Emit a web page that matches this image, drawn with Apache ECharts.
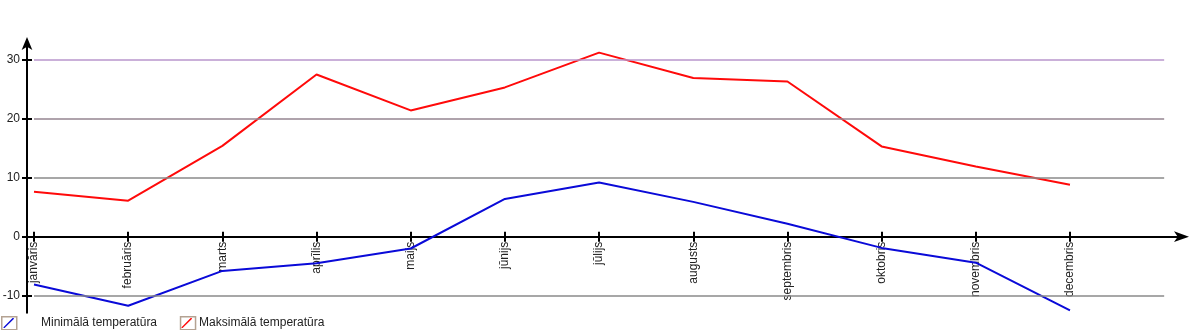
<!DOCTYPE html>
<html><head><meta charset="utf-8">
<script src="https://cdn.jsdelivr.net/npm/echarts@6/dist/echarts.min.js"></script>
<style>html,body{margin:0;padding:0;background:#fff}#c{width:1200px;height:330px}</style>
</head><body><div id="c"></div>
<script>
const months = ['janvāris','februāris','marts','aprīlis','maijs','jūnijs','jūlijs','augusts','septembris','oktobris','novembris','decembris'];
const minTemp = [-8.1, -11.7, -5.8, -4.5, -2.0, 6.4, 9.2, 5.9, 2.2, -1.9, -4.4, -12.5];
const maxTemp = [7.6, 6.1, 15.4, 27.5, 21.4, 25.3, 31.2, 26.9, 26.3, 15.3, 11.9, 8.8];
const yTicks = [-10, 0, 10, 20, 30];
const gridValues = [30, 20, 10, -10];
const seriesNames = ['Minimālā temperatūra', 'Maksimālā temperatūra'];

const gridColors = {30: '#b896cc', 20: '#948490', 10: '#8a8a8a', '-10': '#8a8a8a'};
const font = "'Liberation Sans', Arial, sans-serif";
const monthIdx = months.map((m, i) => i);
const X_MIN = -0.0743, X_MAX = 12.2, Y_MIN = -12.9, Y_MAX = 33.0;
const GRID_TOP = 42, GRID_BOTTOM = 17.2, H = 330;
const gridH = H - GRID_TOP - GRID_BOTTOM;
const zeroOffset = -gridH * (0 - Y_MIN) / (Y_MAX - Y_MIN);

const chart = echarts.init(document.getElementById('c'), null, {renderer: 'canvas'});
const legendFmt = n => n === seriesNames[0] ? '{g|}{t|' + n + '}' : '{t|' + n + '}';
const diag = 'path://M0,0L0.01,0L0,0.01Z M15,13L14.99,13L15,12.99Z M2.5,11.2L11.6,2.0L12.8,2.0L12.8,3.0L3.6,12.0L2.5,12.0Z';
const legendBase = {
  left: 1, top: 316, padding: 0, itemWidth: 15, itemHeight: 13, itemGap: 22, selectedMode: false,
  formatter: legendFmt
};
chart.setOption({
  animation: false,
  grid: {left: 27, right: 17, top: GRID_TOP, bottom: GRID_BOTTOM, containLabel: false, outerBoundsMode: 'none'},
  legend: [
    Object.assign({}, legendBase, {
      data: seriesNames.map(n => ({name: n, icon: 'rect'})),
      itemStyle: {color: '#fff', borderColor: '#b4a292', borderWidth: 1.5},
      textStyle: {color: 'rgba(0,0,0,0)', fontFamily: font, fontSize: 12,
        rich: {g: {width: 20}, t: {color: 'rgba(0,0,0,0)', fontFamily: font, fontSize: 12}}},
      z: 2
    }),
    Object.assign({}, legendBase, {
      data: seriesNames.map(n => ({name: n, icon: diag})),
      itemStyle: {borderWidth: 0},
      textStyle: {color: '#222', fontFamily: font, fontSize: 12,
        rich: {g: {width: 20}, t: {color: '#222', fontFamily: font, fontSize: 12}}},
      z: 3
    })
  ],
  xAxis: [{
    type: 'value', min: X_MIN, max: X_MAX, position: 'bottom', offset: zeroOffset,
    splitLine: {show: false},
    axisLine: {show: true, onZero: false, symbol: ['none', 'arrow'], symbolSize: [8, 15], symbolOffset: [0, 6],
      lineStyle: {color: '#000', width: 2}},
    axisTick: {show: true, customValues: monthIdx, length: 5, lineStyle: {color: '#000', width: 2}},
    axisLabel: {customValues: monthIdx, rotate: 90, margin: 5, color: '#222', fontFamily: font, fontSize: 12,
      formatter: v => months[Math.round(v)]}
  }, {
    type: 'value', min: X_MIN, max: X_MAX, position: 'bottom', offset: zeroOffset,
    splitLine: {show: false},
    axisLine: {show: false, onZero: false},
    axisTick: {show: true, inside: true, customValues: monthIdx, length: 5, lineStyle: {color: '#000', width: 2}},
    axisLabel: {show: false}
  }],
  yAxis: [{
    type: 'value', min: Y_MIN, max: Y_MAX, position: 'left',
    splitLine: {show: false},
    axisLine: {show: true, onZero: false, symbol: ['none', 'arrow'], symbolSize: [8, 13], symbolOffset: [0, 5],
      lineStyle: {color: '#000', width: 2}},
    axisTick: {show: true, customValues: yTicks, length: 5, lineStyle: {color: '#000', width: 2}},
    axisLabel: {customValues: yTicks, margin: 7, color: '#222', fontFamily: font, fontSize: 12}
  }, {
    type: 'value', min: Y_MIN, max: Y_MAX, position: 'left',
    splitLine: {show: false},
    axisLine: {show: false, onZero: false},
    axisTick: {show: true, inside: true, customValues: yTicks, length: 5, lineStyle: {color: '#000', width: 2}},
    axisLabel: {show: false}
  }],
  series: [{
    type: 'line', name: '__grid', data: [], z: 1, silent: true,
    markLine: {
      silent: true, symbol: 'none', label: {show: false}, animation: false,
      data: gridValues.map(v => [
        {coord: [0, v], lineStyle: {color: gridColors[v], width: 1.5, type: 'solid'}},
        {coord: [12, v]}
      ])
    }
  }, {
    type: 'line', name: seriesNames[0], z: 3,
    data: minTemp.map((v, i) => [i, v]),
    showSymbol: false, symbol: 'none',
    itemStyle: {color: '#0a0ad8'},
    lineStyle: {color: '#0a0ad8', width: 2}
  }, {
    type: 'line', name: seriesNames[1], z: 3,
    data: maxTemp.map((v, i) => [i, v]),
    showSymbol: false, symbol: 'none',
    itemStyle: {color: '#ff0a0a'},
    lineStyle: {color: '#ff0a0a', width: 2}
  }]
});
</script></body></html>
